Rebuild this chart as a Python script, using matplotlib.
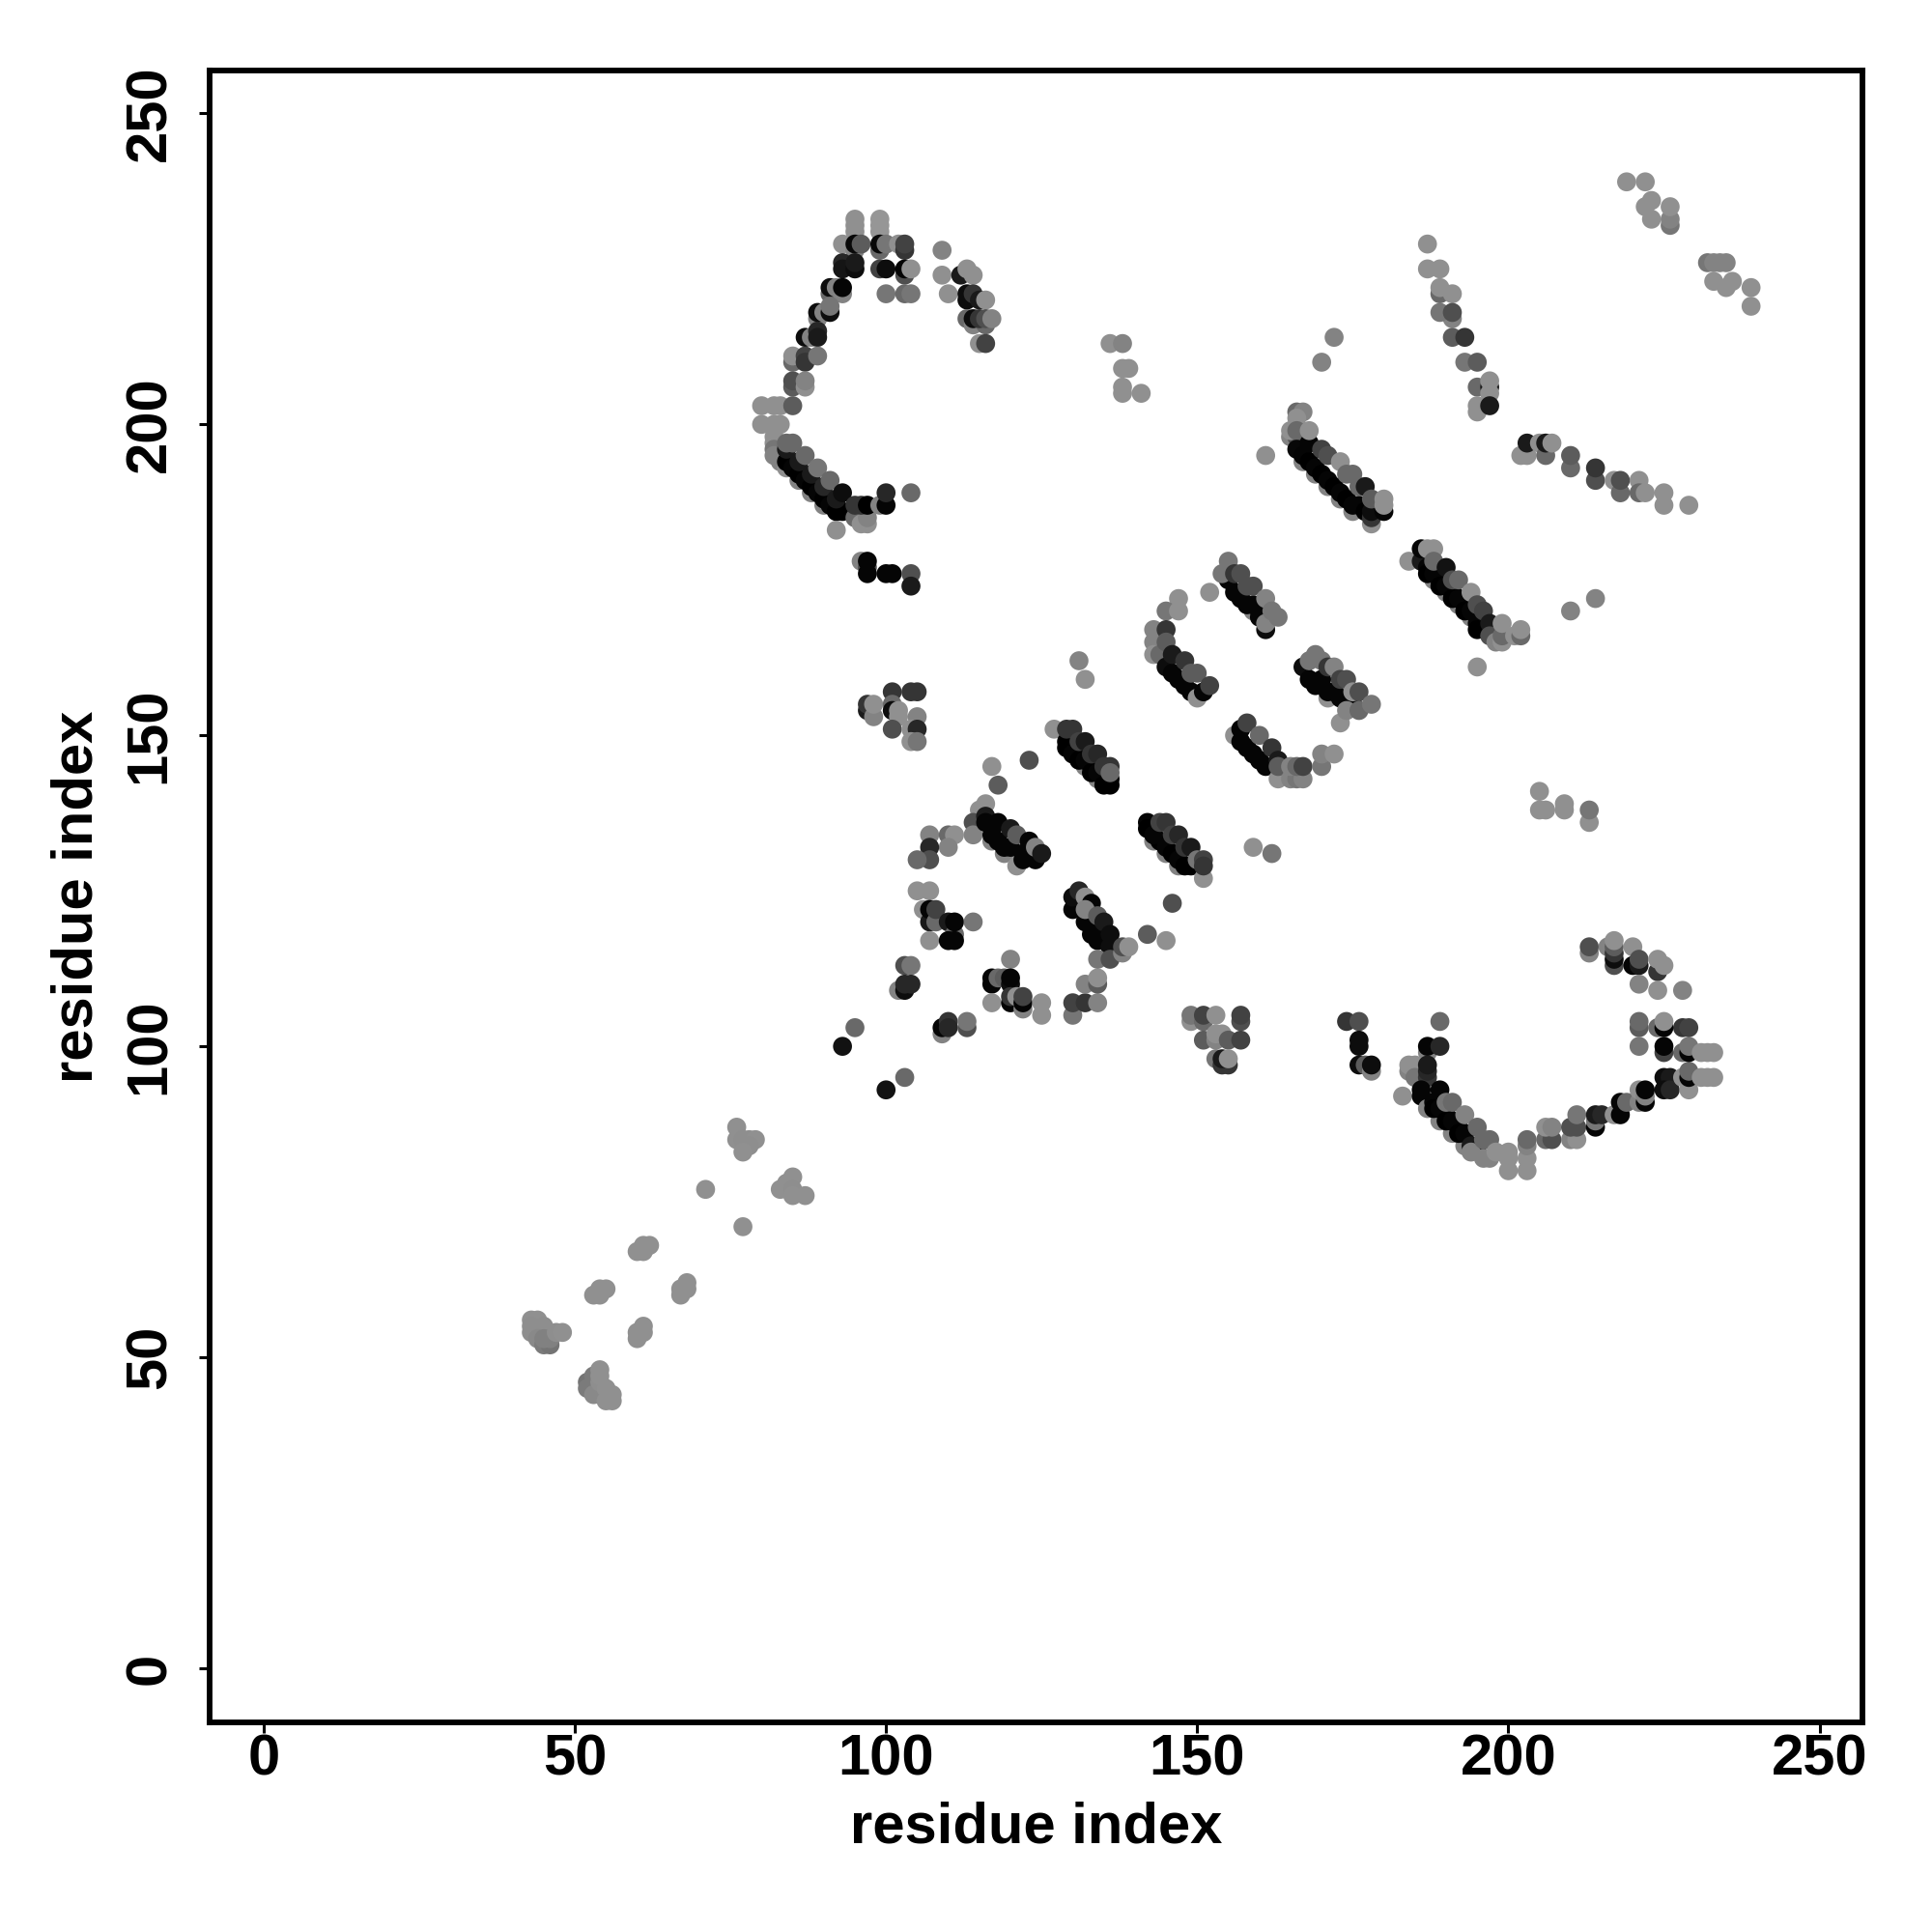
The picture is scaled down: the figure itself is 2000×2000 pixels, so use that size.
import matplotlib
matplotlib.use("Agg")
import matplotlib.pyplot as plt

# Each contact: (residue i, residue j, grey level)
upper_arc = [
 (95,233,.55),(95,232,.55),(95,231,.55),(99,233,.57),(99,232,.57),(99,231,.57),(93,229,.55),(95,228,.5),(99,228,.4),
 (95,229,.03),(96,229,.35),(99,229,.03),(100,229,.45),(102,229,.55),(103,228,.2),(103,229,.25),
 (93,226,.15),(93,225,.08),(95,225,.05),(95,226,.1),(99,225,.25),(100,225,.05),(103,224,.3),(103,225,.02),(104,225,.55),
 (100,221,.45),(103,221,.4),(104,221,.45),(109,228,.5),(109,224,.55),(110,221,.55),
 (112,224,.1),(113,225,.55),(114,224,.55),(113,221,.05),(113,220,.05),(114,221,.2),(115,220,.1),(116,220,.55),
 (113,217,.4),(114,216,.5),(116,216,.4),(114,217,.05),(115,217,.2),(116,217,.3),(117,217,.5),(115,213,.55),(116,213,.25),
 (91,221,.4),(93,221,.5),(91,222,.05),(92,222,.5),(93,222,.02),(89,217,.5),(89,218,.05),(90,218,.5),(91,218,.05),(91,219,.45),
 (87,214,.05),(88,214,.5),(89,215,.15),(89,214,.1),(85,210,.4),(85,211,.55),(87,211,.25),(87,210,.2),(89,211,.45),
 (85,206,.35),(85,207,.3),(87,206,.55),(87,207,.5),(80,203,.55),(82,203,.55),(83,203,.55),(85,203,.35),
 (80,200,.55),(82,200,.55),(83,200,.55),
]
upper_helix = [
 (82,198,.55),(82,197,.55),(82,196,.45),(82,195,.5),(83,194,.5),(84,193,.55),(86,191,.5),(88,189,.5),(90,187,.5),
 (84,194,.0),(85,193,.02),(86,192,.0),(87,191,.02),(88,190,.0),(89,189,.02),(90,188,.0),(91,187,.02),(92,186,.0),(93,186,.0),
 (84,196,.1),(86,194,.1),(88,192,.1),(90,190,.15),(92,188,.1),
 (85,197,.4),(84,197,.4),(87,195,.4),(89,193,.45),(91,191,.4),(93,189,.05),
 (95,185,.4),(96,184,.55),(97,184,.55),(97,185,.5),(95,187,.2),(96,187,.2),(97,187,.0),(99,187,.5),(100,187,.02),
 (100,189,.15),(104,189,.4),(92,183,.55),
 (96,178,.5),(97,177,.3),(97,176,.02),(97,178,.02),(100,176,.02),(101,176,.02),(104,176,.3),(104,174,.1),
]
mid_left = [
 (101,157,.2),(104,157,.2),(105,157,.2),(97,154,.1),(97,155,.2),(98,153,.5),(98,155,.55),(101,155,.4),(101,154,.05),
 (102,153,.55),(102,154,.55),(101,151,.3),(105,153,.5),(104,151,.55),(105,151,.15),(104,149,.55),(105,149,.45),
 (116,139,.55),(115,138,.55),(114,136,.3),(114,134,.5),
 (117,133,.5),(119,131,.5),(121,129,.55),
 (116,137,.1),(116,136,.02),(117,134,.02),(118,136,.02),(118,133,.02),(119,132,.02),(120,135,.1),(120,132,.02),(122,130,.02),
 (121,134,.35),(123,133,.02),(122,131,.02),(124,130,.02),(124,132,.5),(125,131,.1),
 (107,134,.5),(110,134,.4),(111,134,.55),(110,132,.5),(107,132,.15),(107,130,.3),(105,130,.4),
 (105,125,.55),(107,125,.55),(106,122,.55),(107,120,.1),(107,122,.02),(108,120,.4),(108,122,.25),(107,117,.55),
 (110,120,.1),(111,118,.4),(110,117,.02),(111,117,.02),(111,120,.02),(114,120,.45),
 (95,103,.4),(93,100,.07),(103,95,.4),(100,93,.07),
 (103,113,.3),(104,113,.45),(102,109,.5),(103,109,.05),(103,110,.15),(104,110,.15),
 (109,102,.5),(109,103,.02),(110,104,.2),(110,103,.15),(113,103,.3),(113,104,.45),
 (120,114,.5),(117,110,.02),(117,111,.02),(118,111,.4),(119,111,.35),(120,110,.05),(120,111,.02),(117,107,.55),
 (120,107,.02),(120,108,.2),(122,106,.5),(121,108,.55),(122,107,.02),(122,108,.25),(125,107,.55),(125,105,.55),
 (130,105,.45),(130,107,.25),(132,107,.2),(134,107,.5),(132,110,.5),(134,110,.35),(134,111,.55),
]
center_helices = [
 (127,151,.55),(123,146,.3),(117,145,.55),(118,142,.35),(131,162,.5),(132,159,.55),
 (130,147,.5),(132,145,.5),(134,143,.5),
 (129,149,.0),(129,148,.0),(130,147,.02),(131,147,.02),(131,146,.0),(132,146,.02),(133,145,.02),(133,144,.0),(134,144,.02),(135,143,.02),(135,142,.0),(136,143,.0),(136,142,.0),
 (129,151,.2),(130,151,.2),(131,149,.25),(132,149,.1),(133,147,.2),(134,147,.15),(135,145,.2),(136,145,.2),(136,144,.4),
 (131,123,.5),(130,122,.02),(130,124,.05),(131,125,.15),(132,124,.55),(133,123,.02),(132,120,.02),(132,122,.5),
 (133,118,.02),(134,117,.02),(134,119,.02),(135,118,.02),(134,121,.35),(135,120,.1),(136,116,.05),(136,118,.05),
 (134,114,.45),(136,114,.3),(138,115,.5),(138,116,.3),(139,116,.55),
 (142,118,.35),(145,117,.55),(146,123,.3),
 (143,133,.5),(145,131,.5),(147,129,.5),
 (142,136,.02),(142,135,.0),(144,133,.0),(143,134,.02),(145,132,.02),(146,131,.0),(147,130,.02),(148,129,.0),(149,129,.0),(151,127,.55),
 (144,136,.25),(145,136,.2),(146,134,.25),(147,134,.15),(148,132,.2),(149,132,.1),(150,130,.45),(151,130,.25),(151,129,.2),
 (159,132,.55),(162,131,.45),
 (149,104,.55),(149,105,.45),(151,104,.4),(151,105,.25),(153,105,.55),(157,104,.3),(157,105,.25),
 (151,101,.35),(153,101,.5),(153,102,.55),(154,102,.55),(155,101,.35),(157,101,.25),
 (153,98,.45),(154,97,.2),(155,97,.2),(154,98,.1),(155,98,.55),
]
right_helices = [
 (161,195,.55),(166,202,.4),(167,202,.5),(166,201,.55),(165,198,.5),(166,198,.3),(165,199,.55),(166,199,.4),
 (167,194,.5),(169,192,.5),(171,190,.5),(173,188,.5),(175,186,.5),
 (166,196,.03),(167,195,.02),(168,194,.0),(169,193,.02),(170,192,.0),(171,191,.02),(172,190,.0),(173,189,.02),(174,188,.0),(175,187,.02),(176,187,.02),(177,186,.0),
 (168,197,.02),(168,199,.55),(170,196,.25),(171,195,.3),(173,194,.55),(174,192,.4),(175,192,.4),(176,190,.4),(177,190,.1),
 (178,184,.55),(178,185,.2),(178,186,.05),(178,188,.35),(180,186,.02),(180,187,.55),(180,188,.55),
 (184,178,.55),(186,178,.1),(186,180,.02),(187,180,.55),(188,180,.55),
 (188,175,.5),(190,173,.5),(192,171,.5),(194,169,.5),
 (187,177,.02),(187,176,.0),(188,176,.02),(189,175,.02),(189,174,.0),(190,174,.02),(191,173,.02),(191,172,.0),(192,172,.02),(193,171,.02),(193,170,.0),(194,170,.02),(195,168,.02),(195,167,.0),
 (188,178,.4),(190,177,.07),(191,175,.3),(192,175,.4),(194,173,.55),(195,171,.3),(196,170,.25),(197,168,.1),
 (197,166,.3),(198,165,.5),(199,165,.55),(199,166,.4),(199,168,.55),(201,166,.55),(202,166,.4),(202,167,.55),(195,161,.55),
 (156,173,.02),(157,172,.02),(159,170,.5),(158,171,.02),(159,171,.02),(160,169,.02),(160,170,.02),
 (155,175,.02),(154,176,.45),(155,178,.45),(156,176,.2),(157,176,.3),(158,174,.3),(159,174,.3),(161,172,.5),
 (161,167,.05),(161,168,.5),(162,170,.45),(163,169,.45),
 (147,172,.55),(145,170,.45),(147,170,.55),(152,173,.55),
 (143,167,.5),(143,165,.5),(143,163,.55),(144,163,.4),
 (145,161,.05),(146,160,.02),(147,159,.02),(148,158,.02),(149,157,.02),(150,156,.55),(151,157,.02),
 (145,167,.2),(145,165,.35),(146,163,.1),(148,162,.2),(149,160,.35),(150,160,.35),(152,158,.25),
 (156,150,.55),(157,149,.02),(157,151,.02),(158,152,.25),(158,148,.02),(159,147,.02),(160,146,.02),(161,145,.02),
 (160,150,.4),(162,148,.2),(163,146,.1),(163,143,.55),(163,145,.35),(165,143,.5),(166,143,.45),(167,143,.5),
 (165,145,.5),(166,145,.4),(167,145,.25),(170,145,.45),(170,147,.5),(172,147,.55),(173,152,.55),
 (167,161,.05),(168,159,.02),(168,162,.45),(169,158,.02),(170,159,.02),(171,156,.55),(171,157,.02),(172,157,.02),(173,156,.02),(175,155,.02),(174,154,.5),
 (169,163,.45),(170,162,.45),(171,161,.2),(172,161,.5),(173,159,.25),(174,159,.3),(175,157,.55),(176,157,.3),(176,154,.4),(178,155,.45),
 (170,210,.5),(172,214,.5),(210,170,.5),(214,172,.5),
 (205,141,.55),(205,138,.55),(206,138,.55),(209,139,.55),(209,138,.55),(213,136,.55),(213,138,.45),
]
far_corner = [
 (136,213,.55),(138,213,.5),(139,209,.55),(138,209,.55),(138,206,.55),(138,205,.55),(141,205,.55),
 (187,229,.55),(187,225,.55),(189,225,.55),(189,221,.4),(189,222,.55),(191,221,.55),(191,217,.5),(189,218,.45),(191,218,.3),
 (191,214,.35),(193,214,.2),(193,210,.45),(195,210,.35),(195,206,.4),(197,206,.1),(197,205,.55),(197,207,.55),
 (195,203,.55),(195,202,.55),(197,203,.1),
 (219,239,.55),(222,239,.55),(222,235,.55),(223,233,.55),(223,236,.55),(226,232,.45),(226,233,.5),(226,235,.55),
 (232,226,.45),(233,226,.5),(234,226,.5),(235,226,.5),(233,223,.55),(235,222,.55),(236,223,.55),(239,222,.55),(239,219,.55),
 (202,195,.55),(203,195,.55),(203,197,.1),(205,197,.55),(206,195,.4),(206,197,.1),(207,197,.55),
 (210,193,.4),(210,195,.35),(214,191,.3),(214,193,.2),(217,191,.55),(218,189,.4),(218,191,.3),
 (221,191,.55),(221,189,.4),(222,189,.55),(225,187,.55),(225,189,.55),(229,187,.55),
]
lower_arc = [
 (174,104,.2),(176,104,.3),(176,101,.05),(176,100,.05),(176,97,.05),(177,97,.35),(178,96,.5),(178,97,.05),
 (189,104,.4),(187,99,.5),(187,100,.02),(189,100,.15),(184,96,.5),(184,97,.55),(185,97,.55),(185,95,.45),
 (187,95,.2),(187,96,.15),(187,97,.1),(183,92,.55),(186,92,.02),(186,93,.02),
 (187,90,.5),(189,88,.5),(191,86,.5),(193,84,.5),
 (188,91,.02),(188,90,.0),(189,90,.02),(190,89,.02),(190,88,.0),(191,88,.02),(192,87,.02),(192,86,.0),(193,86,.02),(194,84,.1),(195,84,.1),
 (189,93,.02),(190,91,.45),(191,91,.4),(193,89,.5),(195,87,.4),(194,83,.5),(196,82,.5),(197,82,.5),(196,85,.4),(197,85,.4),
 (198,83,.55),(200,83,.55),(200,82,.55),(200,80,.55),(203,80,.55),(203,82,.55),(203,84,.5),(203,85,.4),
 (206,85,.4),(207,85,.3),(206,87,.55),(207,87,.5),(210,85,.5),(211,85,.55),(210,87,.3),(211,87,.3),(211,89,.45),
 (214,87,.02),(214,88,.45),(214,89,.1),(215,89,.15),(217,89,.55),(218,89,.02),(218,91,.02),(219,91,.4),
 (221,91,.5),(221,93,.55),(222,91,.02),(222,92,.5),(222,93,.02),
 (225,95,.05),(226,95,.1),(225,93,.05),(226,93,.15),(228,95,.55),(229,93,.55),(229,95,.02),(229,96,.4),
 (231,95,.55),(232,95,.55),(233,95,.55),(228,99,.4),(229,99,.02),(229,100,.45),(231,99,.55),(232,99,.55),(233,99,.55),
 (228,103,.2),(229,103,.25),(221,103,.35),(221,104,.4),(221,100,.45),(224,103,.4),(225,103,.02),(225,104,.55),(225,99,.25),(225,100,.02),
 (213,115,.5),(213,116,.3),(216,116,.5),(217,113,.3),(217,114,.05),(217,115,.2),(217,116,.35),(217,117,.55),
 (220,113,.02),(220,116,.55),(221,113,.1),(221,114,.3),(224,112,.2),(224,114,.55),(225,113,.55),
 (221,110,.5),(224,109,.55),(228,109,.5),
]
low_strand = [
 (76,87,.55),(76,85,.55),(77,85,.54),(78,85,.54),(79,85,.55),(78,84,.54),(77,83,.55),(71,77,.55),(77,71,.55),
 (85,79,.55),(84,78,.55),(83,77,.55),(85,77,.54),(85,76,.55),(87,76,.55),
 (62,68,.55),(61,68,.55),(60,67,.55),(61,67,.55),(55,61,.55),(54,61,.55),(53,60,.55),(54,60,.55),
 (68,62,.55),(67,61,.55),(67,60,.55),(68,61,.55),(61,55,.55),(60,54,.55),(60,53,.55),(61,54,.55),
 (43,56,.55),(44,56,.55),(43,55,.54),(43,54,.54),(45,55,.54),(44,53,.52),(45,52,.47),(46,52,.44),(45,53,.49),(46,53,.49),(47,54,.54),(48,54,.55),
 (52,46,.44),(52,45,.47),(53,47,.47),(53,44,.52),(54,46,.54),(54,47,.55),(54,48,.55),(55,45,.55),(56,44,.55),(56,43,.55),(55,43,.55),
]
groups = [low_strand, upper_arc, upper_helix, mid_left, center_helices, right_helices, far_corner, lower_arc]

tick_values = [0, 50, 100, 150, 200, 250]
axis_label = "residue index"

plt.rcParams['font.family'] = ['Liberation Sans', 'DejaVu Sans']
fig = plt.figure(figsize=(10, 10), dpi=200)
ax = fig.add_axes([217/2000, 1-1783/2000, (1928-217)/2000, (1783-73)/2000])
for group in groups:
    xs = [p[0] for p in group]
    ys = [p[1] for p in group]
    cs = [str(min(p[2] * 1.03, 1)) for p in group]
    ax.scatter(xs, ys, c=cs, s=50, linewidths=0, zorder=3)
ax.set_xlim(-8.7, 256.9)
ax.set_ylim(-8.7, 256.9)
ax.set_xticks(tick_values)
ax.set_yticks(tick_values)
ax.tick_params(axis='both', direction='out', length=4, width=1.1, labelsize=21.5)
ax.tick_params(axis='x', pad=0)
ax.tick_params(axis='y', pad=12.5)
for lab in ax.get_xticklabels():
    lab.set_fontweight('bold')
for lab in ax.get_yticklabels():
    lab.set_fontweight('bold')
    lab.set_rotation(90)
    lab.set_rotation_mode('anchor')
    lab.set_ha('center')
    lab.set_va('baseline')
for s in ax.spines.values():
    s.set_linewidth(2.1)
fig.text((217+1928)/4000, 1-1892/2000, axis_label, ha='center', va='center', fontsize=21.5, fontweight='bold')
fig.text(80/2000, 1-928/2000, axis_label, ha='center', va='center', rotation=90, fontsize=21.5, fontweight='bold')
fig.savefig('out.png', dpi=200)
